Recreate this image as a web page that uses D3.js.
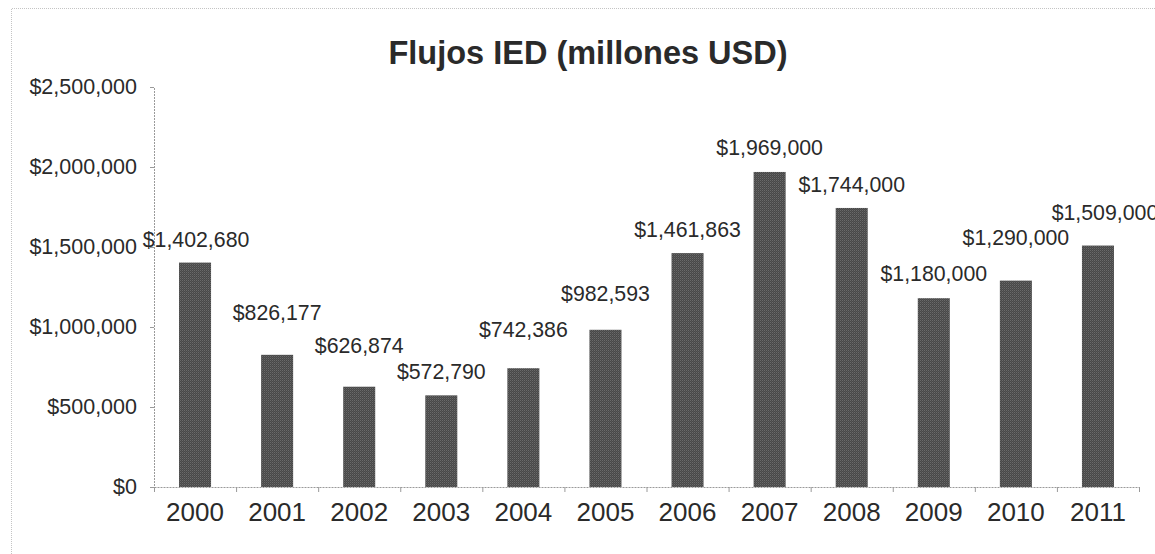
<!DOCTYPE html>
<html>
<head>
<meta charset="utf-8">
<script src="https://cdn.jsdelivr.net/npm/d3@7"></script>
<style>
  html, body { margin: 0; padding: 0; background: #fff; }
  svg { display: block; }
  text { font-family: "Liberation Sans", Arial, sans-serif; fill: #2a2a2a; }
</style>
</head>
<body>
<svg id="chart" width="1155" height="554"></svg>
<script>
// Foreign direct investment flows, millions of USD
const years = ["2000", "2001", "2002", "2003", "2004", "2005", "2006", "2007", "2008", "2009", "2010", "2011"];
const flows = [1402680, 826177, 626874, 572790, 742386, 982593, 1461863, 1969000, 1744000, 1180000, 1290000, 1509000];
const yTicks = [0, 500000, 1000000, 1500000, 2000000, 2500000];
const title = "Flujos IED (millones USD)";

// Hand placement of the value labels: lift above the bar top (px) and sideways shift (px)
const labelLift = [23, 42, 41, 23, 38, 36, 23, 24, 23, 24, 43, 33];
const labelShift = [1, 0, 0, 0, 0, 0, 0, 0, 0, 0, 0, 7];

const svg = d3.select("#chart");
const W = 1155, H = 554;
const plot = { left: 154, right: 1139, top: 87, bottom: 487 };

// Halftone-like fill for the bars
const defs = svg.append("defs");
const pat = defs.append("pattern")
  .attr("id", "halftone").attr("patternUnits", "userSpaceOnUse")
  .attr("width", 2).attr("height", 2);
pat.append("rect").attr("width", 2).attr("height", 2).attr("fill", "#484848");
pat.append("rect").attr("width", 1).attr("height", 1).attr("fill", "#6a6a6a");
pat.append("rect").attr("x", 1).attr("y", 1).attr("width", 1).attr("height", 1).attr("fill", "#565656");

// Outer chart frame (only top and left edges fall inside the view)
svg.append("path")
  .attr("d", `M11.5,${H} L11.5,8.5 L${W},8.5`)
  .attr("fill", "none").attr("stroke", "#c4c4c4").attr("stroke-width", 1)
  .attr("stroke-dasharray", "1,1");

const x = d3.scaleBand()
  .domain(years)
  .range([plot.left, plot.right])
  .paddingInner(0.61)
  .paddingOuter(0.305);

// Index scale for the category boundary ticks
const xEdge = d3.scaleLinear().domain([0, years.length]).range([plot.left, plot.right]);

const y = d3.scaleLinear().domain([0, 2500000]).range([plot.bottom, plot.top]);

const fmt = d3.format("$,");

// Y axis
const yAxis = svg.append("g")
  .attr("transform", `translate(${plot.left},0)`)
  .call(d3.axisLeft(y).tickValues(yTicks).tickFormat(fmt).tickSize(4).tickPadding(13));
yAxis.select(".domain").attr("stroke", "#9a9a9a").attr("stroke-dasharray", "2,1");
yAxis.selectAll(".tick line").attr("stroke", "#9a9a9a");
yAxis.selectAll(".tick text")
  .style("font-family", "'Liberation Sans', Arial, sans-serif")
  .style("font-size", "21.5px").attr("fill", "#2a2a2a");

// Bars
svg.append("g").selectAll("rect")
  .data(years)
  .join("rect")
  .attr("x", d => x(d))
  .attr("width", x.bandwidth())
  .attr("y", (d, i) => y(flows[i]))
  .attr("height", (d, i) => y(0) - y(flows[i]))
  .attr("fill", "url(#halftone)");

// X axis: boundary ticks
const xAxis = svg.append("g")
  .attr("transform", `translate(0,${plot.bottom})`)
  .call(d3.axisBottom(xEdge).tickValues(d3.range(years.length + 1)).tickFormat("").tickSize(5).tickSizeOuter(0));
xAxis.select(".domain").attr("stroke", "#9a9a9a").attr("stroke-dasharray", "2,1");
xAxis.selectAll(".tick line").attr("stroke", "#9a9a9a");

// X axis: category labels
svg.append("g")
  .attr("transform", `translate(0,${plot.bottom})`)
  .call(d3.axisBottom(x).tickSize(0).tickPadding(16))
  .call(g => g.select(".domain").remove())
  .selectAll("text")
  .style("font-family", "'Liberation Sans', Arial, sans-serif")
  .style("font-size", "26px").attr("fill", "#2a2a2a");

// Value labels
svg.append("g").selectAll("text")
  .data(years)
  .join("text")
  .attr("x", (d, i) => x(d) + x.bandwidth() / 2 + labelShift[i])
  .attr("y", (d, i) => y(flows[i]) - labelLift[i])
  .attr("text-anchor", "middle")
  .attr("dominant-baseline", "central")
  .style("font-size", "21.3px")
  .text((d, i) => fmt(flows[i]));

// Title
svg.append("text")
  .attr("x", 588)
  .attr("y", 64)
  .attr("text-anchor", "middle")
  .style("font-size", "32.5px")
  .style("font-weight", "bold")
  .attr("fill", "#111")
  .text(title);
</script>
</body>
</html>
